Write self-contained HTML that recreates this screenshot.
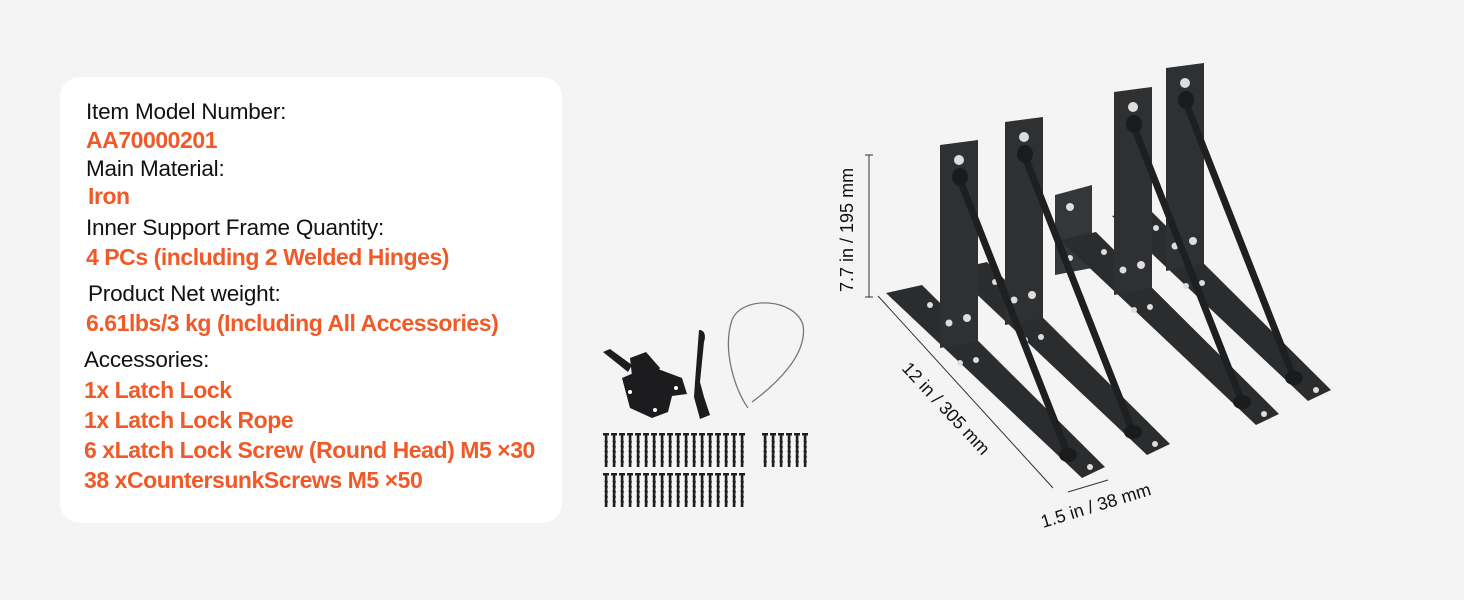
<!DOCTYPE html>
<html><head><meta charset="utf-8"><style>
html,body{margin:0;padding:0}
body{width:1464px;height:600px;background:#f4f4f4;position:relative;overflow:hidden;font-family:"Liberation Sans",sans-serif}
.card{position:absolute;left:60px;top:77px;width:502px;height:446px;background:#fff;border-radius:20px}
.t{position:absolute;font-size:22.5px;color:#111;white-space:nowrap;line-height:1;letter-spacing:-0.2px}
.o{color:#f05a28;font-weight:bold;font-size:23px;letter-spacing:-0.45px}
svg{position:absolute;left:0;top:0}
</style></head><body>
<div class="card"></div>
<div class="t" style="left:86px;top:101px">Item Model Number:</div>
<div class="t o" style="left:86px;top:129px">AA70000201</div>
<div class="t" style="left:86px;top:158px">Main Material:</div>
<div class="t o" style="left:88px;top:185px">Iron</div>
<div class="t" style="left:86px;top:217px">Inner Support Frame Quantity:</div>
<div class="t o" style="left:86px;top:246px">4 PCs (including 2 Welded Hinges)</div>
<div class="t" style="left:88px;top:283px">Product Net weight:</div>
<div class="t o" style="left:86px;top:312px">6.61lbs/3 kg (Including All Accessories)</div>
<div class="t" style="left:84px;top:349px">Accessories:</div>
<div class="t o" style="left:84px;top:379px">1x Latch Lock</div>
<div class="t o" style="left:84px;top:409px">1x Latch Lock Rope</div>
<div class="t o" style="left:84px;top:439px">6 xLatch Lock Screw (Round Head) M5 ×30</div>
<div class="t o" style="left:84px;top:469px">38 xCountersunkScrews M5 ×50</div>

<svg width="1464" height="600" viewBox="0 0 1464 600">
<defs>
<g id="br">
 <polygon points="-54,148 -18,140 165,322 142,333" fill="#2b2c2e"/>
 <polygon points="0,0 38,-5 38,196 0,203" fill="#2f3032"/>
 <circle cx="19" cy="15" r="5" fill="#ddd"/>
 <circle cx="27" cy="173" r="4" fill="#ddd"/>
 <circle cx="9" cy="178" r="3.5" fill="#ddd"/>
 <circle cx="-10" cy="160" r="3" fill="#ddd"/>
 <circle cx="20" cy="218" r="3" fill="#ddd"/>
 <circle cx="36" cy="215" r="3" fill="#ddd"/>
 <circle cx="150" cy="322" r="3" fill="#ddd"/>
 <line x1="20" y1="35" x2="128" y2="310" stroke="#1e1f21" stroke-width="7" stroke-linecap="round"/>
 <ellipse cx="20" cy="32" rx="8" ry="9" fill="#1a1b1d"/>
 <ellipse cx="128" cy="310" rx="9" ry="7" fill="#1a1b1d"/>
</g>
</defs>
<use href="#br" transform="translate(1166,68)"/>
<polygon points="1055,195 1092,185 1092,268 1055,275" fill="#353638"/>
<circle cx="1070" cy="207" r="4" fill="#ddd"/>
<circle cx="1070" cy="258" r="3" fill="#ddd"/>
<use href="#br" transform="translate(1114,92)"/>
<use href="#br" transform="translate(1005,122)"/>
<use href="#br" transform="translate(940,145)"/>
<g stroke="#333" stroke-width="1" fill="none">
 <line x1="869" y1="155" x2="869" y2="297"/>
 <line x1="865" y1="155" x2="873" y2="155"/>
 <line x1="865" y1="297" x2="873" y2="297"/>
 <line x1="878" y1="296" x2="1053" y2="488"/>
 <line x1="1068" y1="492" x2="1108" y2="480"/>
</g>
<text x="0" y="0" font-family="Liberation Sans" font-size="18" fill="#111" transform="translate(853,292) rotate(-90)">7.7 in / 195 mm</text>
<text x="0" y="0" font-family="Liberation Sans" font-size="18" fill="#111" transform="translate(901,369) rotate(47)">12 in / 305 mm</text>
<text x="0" y="0" font-family="Liberation Sans" font-size="18" fill="#111" transform="translate(1043,528) rotate(-17)">1.5 in / 38 mm</text>
<g fill="#1c1c1e">
 <polygon points="603,352 610,349 632,365 628,372"/>
 <polygon points="630,358 646,352 660,368 650,385 632,376"/>
 <polygon points="622,378 650,366 682,378 687,394 672,396 668,412 652,418 630,408"/>
 <path d="M699,330 c6,0 7,6 5,12 l-4,40 4,15 6,18 -10,4 -6,-22 1,-15 z"/>
</g>
<g fill="#fff"><circle cx="630" cy="392" r="2"/><circle cx="655" cy="410" r="2"/><circle cx="676" cy="388" r="2"/></g>
<path d="M748,408 C735,390 722,350 732,320 C742,295 795,298 803,325 C808,355 775,385 752,402" stroke="#777" stroke-width="1.3" fill="none"/>
</svg>
<svg width="1464" height="600" viewBox="0 0 1464 600">
<defs><g id="s"><rect x="0" y="0" width="6" height="2.5" fill="#1f1f21"/><rect x="1.8" y="2" width="2.6" height="32" fill="#1f1f21"/><path d="M1.5,8 l3.5,1 M1.5,13 l3.5,1 M1.5,18 l3.5,1 M1.5,23 l3.5,1 M1.5,28 l3.5,1" stroke="#1f1f21" stroke-width="1"/></g></defs>
<use href="#s" x="603" y="433"/><use href="#s" x="611" y="433"/><use href="#s" x="619" y="433"/><use href="#s" x="627" y="433"/><use href="#s" x="635" y="433"/><use href="#s" x="643" y="433"/><use href="#s" x="651" y="433"/><use href="#s" x="659" y="433"/><use href="#s" x="667" y="433"/><use href="#s" x="675" y="433"/><use href="#s" x="683" y="433"/><use href="#s" x="691" y="433"/><use href="#s" x="699" y="433"/><use href="#s" x="707" y="433"/><use href="#s" x="715" y="433"/><use href="#s" x="723" y="433"/><use href="#s" x="731" y="433"/><use href="#s" x="739" y="433"/>
<use href="#s" x="603" y="473"/><use href="#s" x="611" y="473"/><use href="#s" x="619" y="473"/><use href="#s" x="627" y="473"/><use href="#s" x="635" y="473"/><use href="#s" x="643" y="473"/><use href="#s" x="651" y="473"/><use href="#s" x="659" y="473"/><use href="#s" x="667" y="473"/><use href="#s" x="675" y="473"/><use href="#s" x="683" y="473"/><use href="#s" x="691" y="473"/><use href="#s" x="699" y="473"/><use href="#s" x="707" y="473"/><use href="#s" x="715" y="473"/><use href="#s" x="723" y="473"/><use href="#s" x="731" y="473"/><use href="#s" x="739" y="473"/>
<use href="#s" x="762" y="433"/><use href="#s" x="770" y="433"/><use href="#s" x="778" y="433"/><use href="#s" x="786" y="433"/><use href="#s" x="794" y="433"/><use href="#s" x="802" y="433"/>
</svg>
</body></html>
